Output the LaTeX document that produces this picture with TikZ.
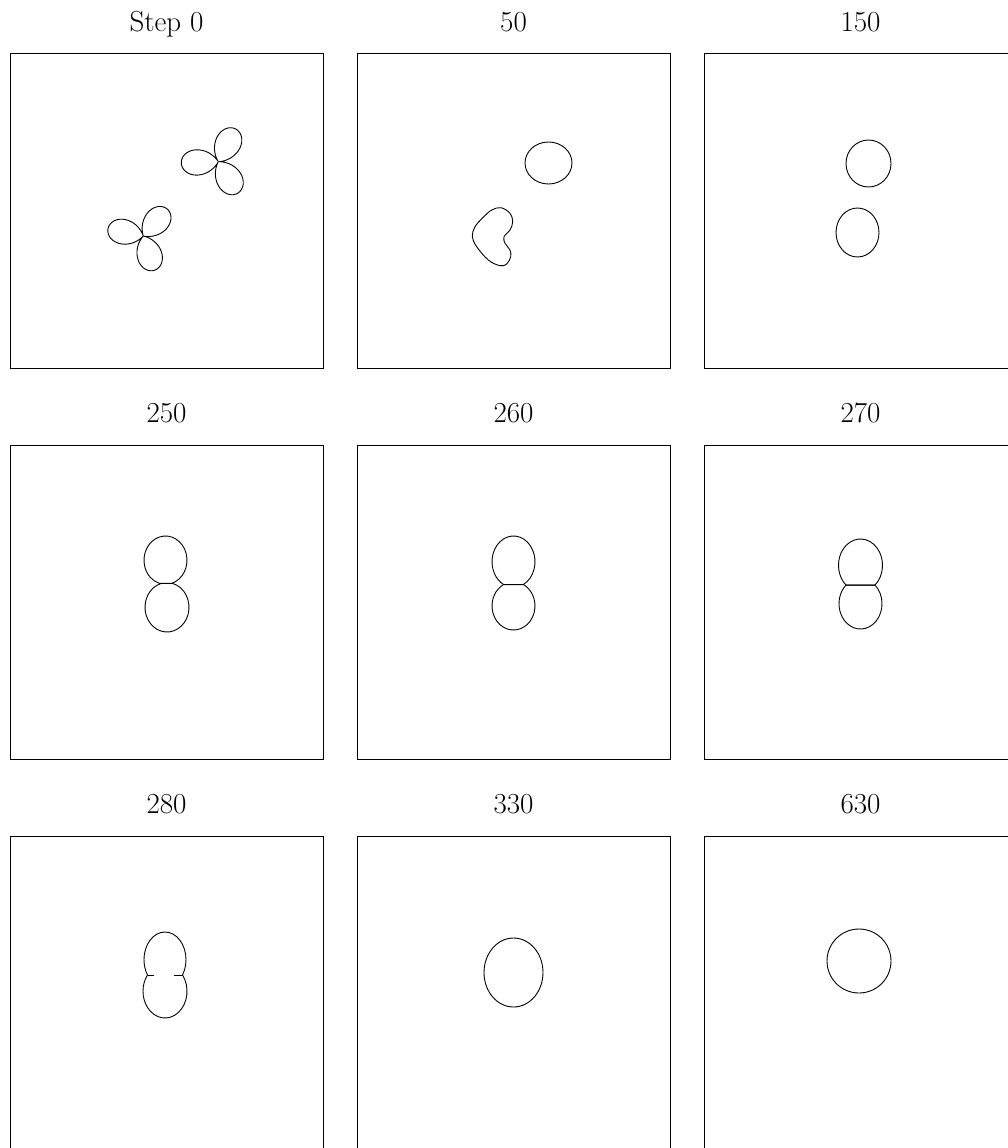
\documentclass[tikz,border=0pt]{standalone}
\usepackage{fontspec}
\begin{document}
\begin{tikzpicture}[x=1pt,y=-1pt,
  frame/.style={draw=black,line width=1pt},
  ttl/.style={anchor=base,font=\fontsize{29}{34}\selectfont,inner sep=0pt},
  blob/.style={draw=black,line width=0.9pt,line join=round}]
\useasboundingbox (0,0) rectangle (1008,1148);
\fill[white] (0,0) rectangle (1008,1148);
\clip (0,0) rectangle (1008,1148);
% panels
\foreach \c in {0,1,2} \foreach \r in {0,1,2} {
  \draw[frame] ({10+347*\c},{54+391*\r}) rectangle ++(313,314);
}
% titles
\node[ttl] (t1) at (166.5,31.5) {Step 0};
\node[ttl] (t2) at (513.5,31.5) {50};
\node[ttl] (t3) at (860.5,31.5) {150};
\node[ttl] (t4) at (166.5,422.5) {250};
\node[ttl] (t5) at (513.5,422.5) {260};
\node[ttl] (t6) at (860.5,422.5) {270};
\node[ttl] (t7) at (166.5,813.5) {280};
\node[ttl] (t8) at (513.5,813.5) {330};
\node[ttl] (t9) at (860.5,813.5) {630};
% Step 0: two trefoils
\draw[blob] plot[smooth, domain=0:360, samples=241, variable=\t]
  ({218.3+37*((1+cos(3*(\t-58)))/2+0.0005)^0.55*cos(\t)}, {161.7+37*((1+cos(3*(\t-58)))/2+0.0005)^0.55*sin(\t)});
\draw[blob] plot[smooth, domain=0:360, samples=241, variable=\t]
  ({143.3+36*((1+cos(3*(\t-72)))/2+0.0005)^0.55*cos(\t)}, {236+36*((1+cos(3*(\t-72)))/2+0.0005)^0.55*sin(\t)});
% 50
\draw[blob] (548.5,163) ellipse[x radius=23.5, y radius=21];
\draw[blob] plot[smooth cycle, tension=0.6] coordinates {
  (501,207.7) (510,213.3) (512.7,221.7) (510,230) (504,236.7) (505,243.3)
  (510,250) (510.7,256.7) (506.7,264) (500,265.7) (488.3,260) (476.7,246.7)
  (472.3,236.7) (475,226.7) (483.3,217.3) (491.7,210)};
% 150
\draw[blob] (868.5,163.5) ellipse[x radius=22.5, y radius=23.5];
\draw[blob] (857.5,232.5) ellipse[x radius=21.5, y radius=24.5];
% 250
\draw[blob] (165.5,560.2) ++(73.8:21.5 and 24.2) arc[start angle=73.8, end angle=-253.8, x radius=21.5, y radius=24.2] -- cycle;
\draw[blob] (167,607.3) ++(-74.2:22 and 24.7) arc[start angle=-74.2, end angle=254.2, x radius=22, y radius=24.7] -- cycle;
% 260
\draw[blob] (513.5,561.7) ++(62.3:21.5 and 25.7) arc[start angle=62.3, end angle=-242.3, x radius=21.5, y radius=25.7] -- cycle;
\draw[blob] (513.5,605.9) ++(-62.3:21.5 and 24.1) arc[start angle=-62.3, end angle=242.3, x radius=21.5, y radius=24.1] -- cycle;
% 270
\draw[blob] (860.5,565.3) ++(48.8:22 and 26.3) arc[start angle=48.8, end angle=-228.8, x radius=22, y radius=26.3] -- cycle;
\draw[blob] (860.5,603.7) ++(-47.5:21.5 and 25.3) arc[start angle=-47.5, end angle=227.5, x radius=21.5, y radius=25.3] -- cycle;
% 280
\draw[blob] (165,959.7) ++(33.6:21 and 27.7) arc[start angle=33.6, end angle=-213.6, x radius=21, y radius=27.7];
\draw[blob] (165,991.2) ++(-37.3:22 and 26.8) arc[start angle=-37.3, end angle=217.3, x radius=22, y radius=26.8];
\draw[blob] (147.5,975) -- (153.5,975);
\draw[blob] (182.5,975) -- (174,975);
% 330
\draw[blob] (513.5,972.5) ellipse[x radius=29.5, y radius=34.5];
% 630
\draw[blob] (859,961) ellipse[x radius=32, y radius=32];
\end{tikzpicture}
\end{document}
